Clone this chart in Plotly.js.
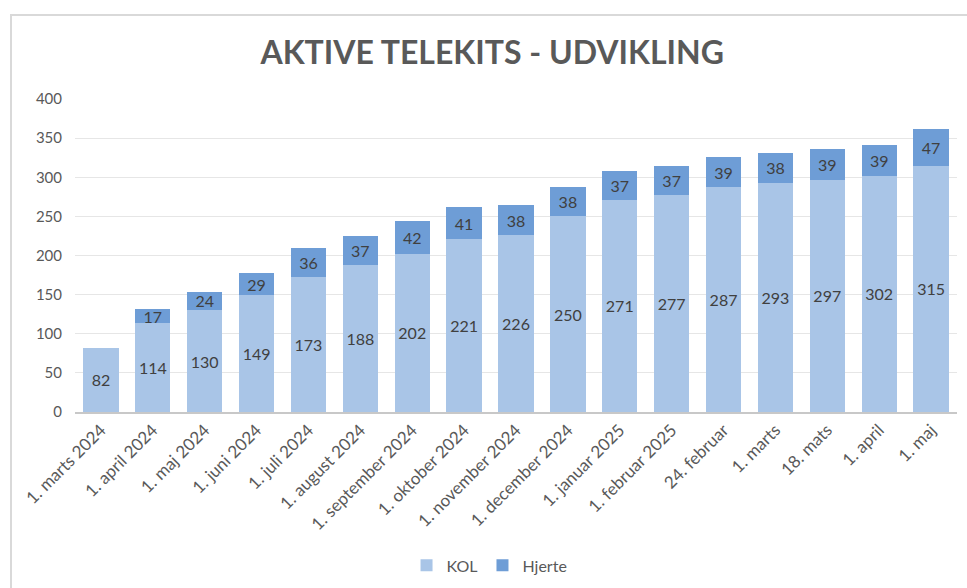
<!DOCTYPE html>
<html>
<head>
<meta charset="utf-8">
<script src="https://cdn.plot.ly/plotly-3.0.1.min.js"></script>
<style>
  html, body { margin: 0; padding: 0; background: #fff; }
  #wrap { position: relative; width: 967px; height: 588px; overflow: hidden; }
  #frame { position: absolute; left: 10px; top: 14px; width: 980px; height: 600px;
           border-left: 2px solid #d9d9d9; border-top: 2px solid #d9d9d9; pointer-events: none; }
  #chart { position: absolute; left: 0; top: 0; width: 967px; height: 588px; }
</style>
</head>
<body>
<div id="wrap">
  <div id="chart"></div>
  <div id="frame"></div>
</div>
<script>
const categories = ["1. marts 2024", "1. april 2024", "1. maj 2024", "1. juni 2024", "1. juli 2024",
  "1. august 2024", "1. september 2024", "1. oktober 2024", "1. november 2024", "1. december 2024",
  "1. januar 2025", "1. februar 2025", "24. februar", "1. marts", "18. mats", "1. april", "1. maj"];
const kol = [82, 114, 130, 149, 173, 188, 202, 221, 226, 250, 271, 277, 287, 293, 297, 302, 315];
const hjerte = [null, 17, 24, 29, 36, 37, 42, 41, 38, 38, 37, 37, 39, 38, 39, 39, 47];
const yTicks = [0, 50, 100, 150, 200, 250, 300, 350, 400];

const font = "Lato, 'Open Sans', sans-serif";
const traces = [
  {
    type: 'bar', name: 'KOL', x: categories, y: kol,
    marker: { color: '#A9C5E7' },
    text: kol.map(String), textposition: 'inside', insidetextanchor: 'middle',
    constraintext: 'none', textangle: 0,
    textfont: { family: font, size: 16, color: '#404040' },
    hoverinfo: 'x+y+name'
  },
  {
    type: 'bar', name: 'Hjerte', x: categories, y: hjerte,
    marker: { color: '#6E9DD6' },
    text: hjerte.map(v => v == null ? '' : String(v)), textposition: 'inside', insidetextanchor: 'middle',
    constraintext: 'none', textangle: 0,
    textfont: { family: font, size: 16, color: '#404040' },
    hoverinfo: 'x+y+name'
  }
];

const layout = {
  width: 967, height: 588,
  margin: { l: 75, r: 10, t: 99, b: 176, autoexpand: false },
  paper_bgcolor: 'rgba(0,0,0,0)', plot_bgcolor: '#fff',
  barmode: 'stack', bargap: 0.32,
  title: {
    text: '<b>AKTIVE TELEKITS - UDVIKLING</b>',
    font: { family: font, size: 32, color: '#595959' },
    xref: 'container', x: 0.509, xanchor: 'center',
    yref: 'container', y: 0.91, yanchor: 'middle'
  },
  xaxis: {
    type: 'category', tickangle: -45, automargin: false,
    tickfont: { family: font, size: 17, color: '#595959' },
    showline: true, linecolor: '#c8c8c8', linewidth: 1.5,
    ticks: '', showgrid: false, fixedrange: true
  },
  yaxis: {
    range: [0, 400], tickvals: yTicks, ticktext: yTicks.map(String), automargin: false,
    tickfont: { family: font, size: 15, color: '#595959' },
    gridcolor: '#e6e6e6', gridwidth: 1, zeroline: false,
    showline: false, ticks: '', ticklabelstandoff: 12, fixedrange: true
  },
  legend: {
    orientation: 'h', x: 0.47, xanchor: 'center', y: -0.49, yanchor: 'middle',
    font: { family: font, size: 16, color: '#595959' },
    itemwidth: 30, traceorder: 'normal'
  },
  showlegend: true
};

Plotly.newPlot('chart', traces, layout, { displayModeBar: false, staticPlot: true });
</script>
</body>
</html>
